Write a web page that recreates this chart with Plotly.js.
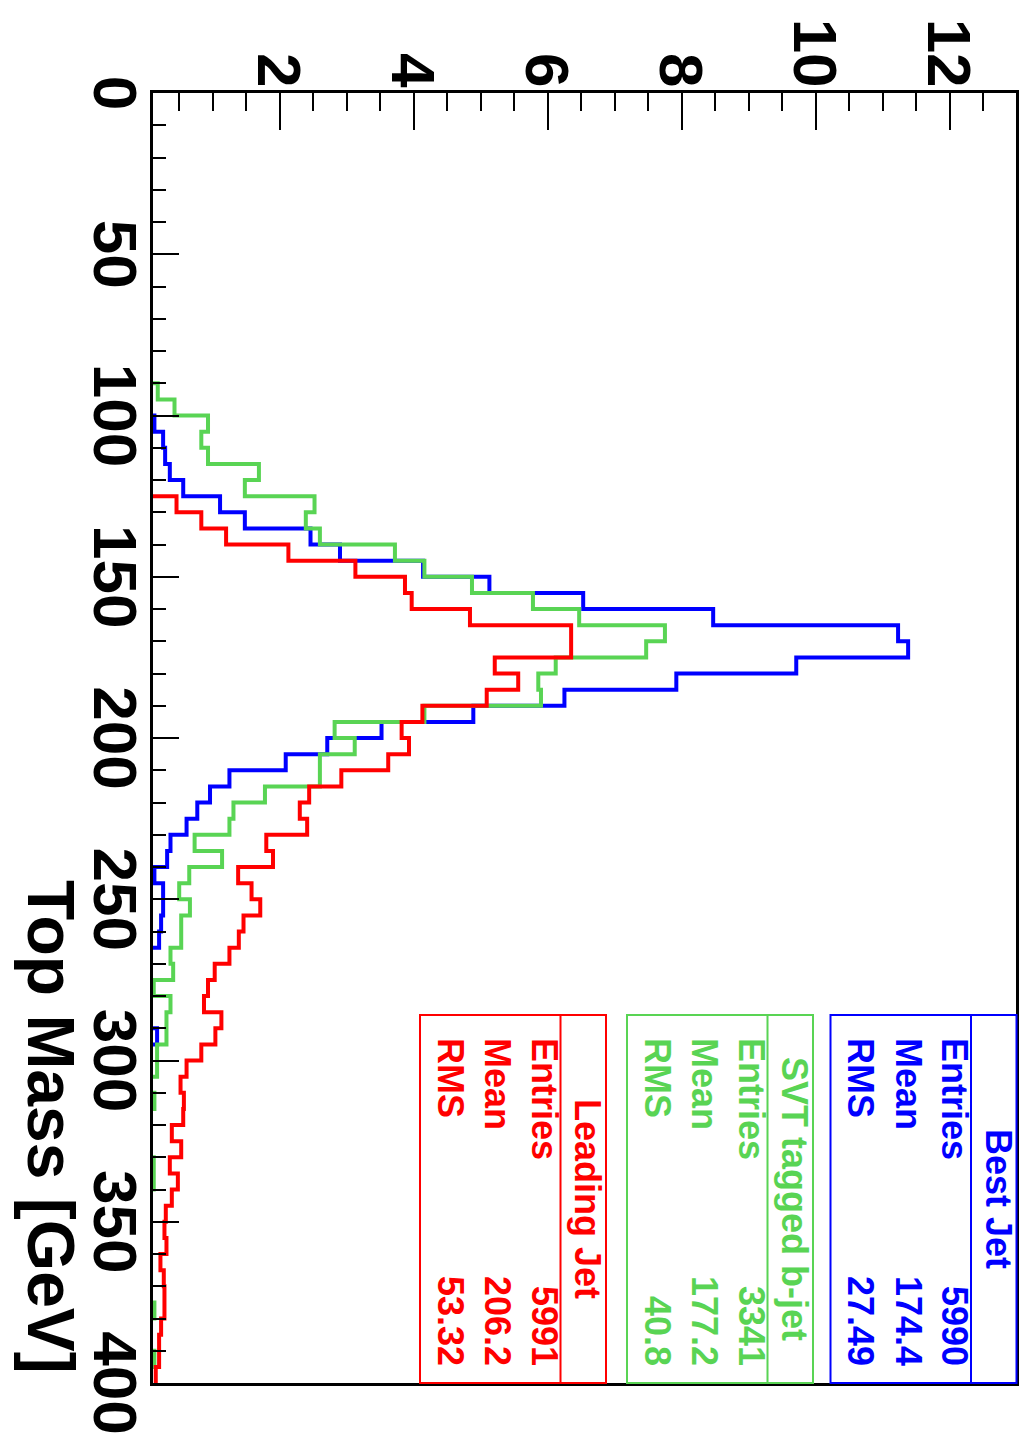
<!DOCTYPE html>
<html>
<head>
<meta charset="utf-8">
<script src="https://cdn.plot.ly/plotly-3.0.1.min.js"></script>
<style>
  html, body { margin: 0; padding: 0; background: #ffffff; overflow: hidden; width: 1026px; height: 1445px; }
  #wrap {
    position: absolute; left: 0; top: 0;
    width: 1445px; height: 1026px;
    transform-origin: 0 0;
    transform: translate(1026px, 0) rotate(90deg);
  }
</style>
</head>
<body>
<div id="wrap"><div id="chart" style="width:1445px;height:1026px;"></div></div>
<script>
// ---------------- DATA ----------------
// bin edges of the Top Mass histograms [GeV]
const binEdges = [0,5,10,15,20,25,30,35,40,45,50,55,60,65,70,75,80,85,90,95,
  100,105,110,115,120,125,130,135,140,145,150,155,160,165,170,175,180,185,190,195,
  200,205,210,215,220,225,230,235,240,245,250,255,260,265,270,275,280,285,290,295,
  300,305,310,315,320,325,330,335,340,345,350,355,360,365,370,375,380,385,390,395,400];

// bin contents (percent per bin), 80 bins from 0 to 400 GeV
const bestJet = [0,0,0,0,0,0,0,0,0,0, 0,0,0,0,0,0,0,0,0,0,
  0.13,0.26,0.29,0.36,0.56,1.11,1.48,2.46,2.90,4.14,
  5.13,6.53,8.47,11.23,11.38,9.71,7.92,6.25,4.89,3.52,
  2.71,2.09,1.25,0.96,0.77,0.61,0.37,0.32,0.13,0.26,
  0.26,0.23,0.20,0,0,0,0,0,0.17,0,
  0,0,0,0,0,0,0,0,0,0, 0,0,0,0,0,0,0,0,0,0];

const svtJet = [0,0,0,0,0,0,0,0,0,0, 0,0,0,0,0,0,0,0,0.18,0.43,
  0.93,0.83,0.93,1.69,1.48,2.52,2.39,2.60,3.72,4.16,
  4.87,5.78,6.47,7.75,7.47,6.12,5.86,5.90,4.16,2.82,
  3.12,2.60,2.60,1.78,1.31,1.25,0.73,1.14,0.65,0.50,
  0.66,0.53,0.53,0.37,0.41,0.12,0.37,0.31,0.31,0.17,
  0.17,0,0.13,0,0,0,0.12,0.12,0,0,
  0,0,0,0,0,0.13,0,0,0.13,0];

const leadingJet = [0,0,0,0,0,0,0,0,0,0, 0,0,0,0,0,0,0,0,0,0,
  0,0,0,0,0,0.46,0.83,1.20,2.13,3.13,
  3.87,3.97,4.84,6.35,6.35,5.21,5.56,5.09,4.13,3.82,
  3.93,3.62,2.92,2.44,2.30,2.41,1.80,1.90,1.38,1.58,
  1.71,1.46,1.39,1.25,1.03,0.93,0.87,1.13,1.04,0.83,
  0.61,0.52,0.57,0.56,0.39,0.53,0.36,0.48,0.39,0.30,
  0.28,0.31,0.22,0.27,0.28,0.28,0.23,0.20,0.20,0.15];

// statistics boxes
const statTitles  = ['Best Jet', 'SVT tagged b-jet', 'Leading Jet'];
const statLabels  = ['Entries', 'Mean', 'RMS'];
const statEntries = ['5990', '3341', '5991'];
const statMeans   = ['174.4', '177.2', '206.2'];
const statRMS     = ['27.49', '40.8', '53.32'];

const xTitle = 'Top Mass [GeV]';

// ---------------- STYLE / LAYOUT ----------------
const colors = ['#0000ff', '#59d454', '#ff0000'];
const FONT = 'Liberation Sans, Arial, Helvetica, sans-serif';
const W = 1445, H = 1026;
const M = { l: 93, r: 62, t: 10, b: 153 };
const PW = W - M.l - M.r, PH = H - M.t - M.b;
const fx = px => (px - M.l) / PW;
const fy = py => (M.t + PH - py) / PH;

function stepTrace(vals, color, name) {
  return {
    type: 'scatter', mode: 'lines', name: name,
    x: binEdges,
    y: vals.concat([vals[vals.length - 1]]),
    line: { shape: 'hv', color: color, width: 4 },
    hoverinfo: 'skip'
  };
}

const traces = [
  stepTrace(bestJet, colors[0], statTitles[0]),
  stepTrace(svtJet, colors[1], statTitles[1]),
  stepTrace(leadingJet, colors[2], statTitles[2])
];

// box vertical positions (pixel, original orientation)
const boxTops = [9.5, 213, 420];
const boxH = 186, titleH = 45.5;
const boxX0 = 1015, boxX1 = 1383;
const rowOff = [61.5, 108.5, 155.5];

const shapes = [];
const annotations = [];
for (let i = 0; i < 3; i++) {
  const t = boxTops[i], c = colors[i];
  shapes.push({ type: 'rect', xref: 'paper', yref: 'paper',
    x0: fx(boxX0), x1: fx(boxX1), y0: fy(t), y1: fy(t + boxH),
    line: { color: c, width: 2 }, fillcolor: 'rgba(255,255,255,1)', layer: 'above' });
  shapes.push({ type: 'line', xref: 'paper', yref: 'paper',
    x0: fx(boxX0), x1: fx(boxX1), y0: fy(t + titleH), y1: fy(t + titleH),
    line: { color: c, width: 2 }, layer: 'above' });
  const f = { family: FONT, size: 36, color: c, weight: 'bold' };
  annotations.push({ xref: 'paper', yref: 'paper', x: fx((boxX0 + boxX1) / 2), y: fy(t + 18),
    text: statTitles[i], showarrow: false, xanchor: 'center', yanchor: 'middle', font: f });
  const vals = [statEntries[i], statMeans[i], statRMS[i]];
  for (let r = 0; r < 3; r++) {
    annotations.push({ xref: 'paper', yref: 'paper', x: fx(1036), y: fy(t + rowOff[r]),
      text: statLabels[r], showarrow: false, xanchor: 'left', yanchor: 'middle', font: f });
    annotations.push({ xref: 'paper', yref: 'paper', x: fx(1368), y: fy(t + rowOff[r]),
      text: vals[r], showarrow: false, xanchor: 'right', yanchor: 'middle', font: f });
  }
}
annotations.push({ xref: 'paper', yref: 'paper', x: fx(1376), y: fy(975),
  text: xTitle, showarrow: false, xanchor: 'right', yanchor: 'middle',
  font: { family: FONT, size: 66, color: '#000000', weight: 'bold' } });

const tickFont = { family: FONT, size: 62, color: '#000000', weight: 'bold' };

const layout = {
  width: W, height: H,
  margin: M,
  paper_bgcolor: '#ffffff', plot_bgcolor: '#ffffff',
  showlegend: false,
  xaxis: {
    range: [0, 400], tickmode: 'linear', tick0: 0, dtick: 50,
    ticks: 'inside', ticklen: 26, tickwidth: 2, tickcolor: '#000000',
    minor: { tick0: 0, dtick: 10, ticks: 'inside', ticklen: 13, tickwidth: 2, tickcolor: '#000000', showgrid: false },
    showline: true, linecolor: '#000000', linewidth: 3, mirror: true,
    showgrid: false, zeroline: false, tickfont: tickFont, ticklabelstandoff: -18
  },
  yaxis: {
    range: [0.109, 12.99], tickmode: 'linear', tick0: 0, dtick: 2,
    ticks: 'inside', ticklen: 37, tickwidth: 2, tickcolor: '#000000',
    minor: { tick0: 0, dtick: 0.5, ticks: 'inside', ticklen: 18, tickwidth: 2, tickcolor: '#000000', showgrid: false },
    showline: true, linecolor: '#000000', linewidth: 3, mirror: true,
    showgrid: false, zeroline: false, tickfont: tickFont, ticklabelstandoff: -10
  },
  shapes: shapes,
  annotations: annotations
};

Plotly.newPlot('chart', traces, layout, { displayModeBar: false, staticPlot: true });
</script>
</body>
</html>
